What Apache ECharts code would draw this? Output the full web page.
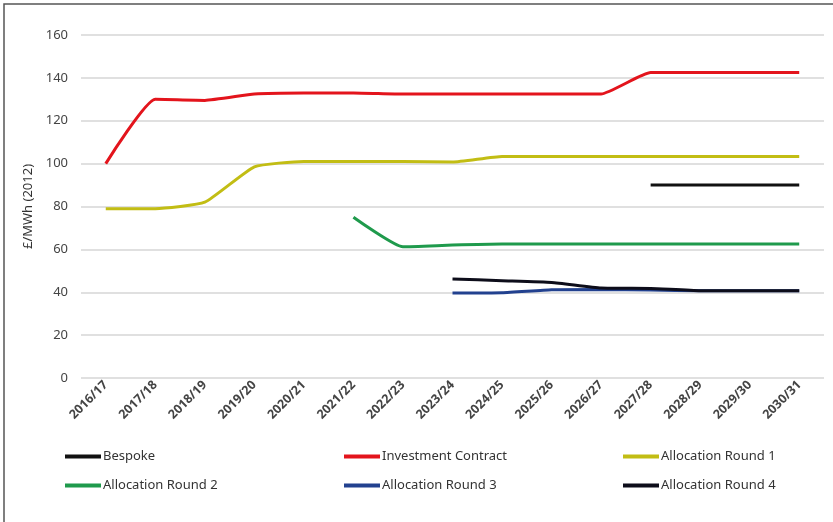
<!DOCTYPE html>
<html>
<head>
<meta charset="utf-8">
<script src="https://cdn.jsdelivr.net/npm/echarts@6/dist/echarts.min.js"></script>
<style>
  html, body { margin: 0; padding: 0; background: #fff; }
  #chart { width: 833px; height: 522px; }
</style>
</head>
<body>
<div id="chart"></div>
<script>
// financial years
var years = ['2016/17', '2017/18', '2018/19', '2019/20', '2020/21', '2021/22', '2022/23', '2023/24',
             '2024/25', '2025/26', '2026/27', '2027/28', '2028/29', '2029/30', '2030/31'];

// £/MWh (2012) per series, null = no value
var bespoke    = [null, null, null, null, null, null, null, null, null, null, null, 90, 90, 90, 90];
var investment = [100, 130, 129.5, 132.5, 133, 133, 132.5, 132.5, 132.5, 132.5, 132.5, 142.5, 142.5, 142.5, 142.5];
var round1     = [79, 79, 82, 98.5, 101, 101, 101, 100.7, 103.3, 103.3, 103.3, 103.3, 103.3, 103.3, 103.3];
var round2     = [null, null, null, null, null, 75, 61.2, 62, 62.5, 62.5, 62.5, 62.5, 62.5, 62.5, 62.5];
var round3     = [null, null, null, null, null, null, null, 39.7, 39.8, 41.2, 41.3, 41, 40.7, 40.7, 40.7];
var round4     = [null, null, null, null, null, null, null, 46.2, 45.4, 44.6, 42, 41.8, 40.7, 40.7, 40.7];

var yTicks = [0, 20, 40, 60, 80, 100, 120, 140, 160];

var font = 'Noto Sans';

function mkSeries(name, data, color) {
  return {
    name: name,
    type: 'line',
    data: data,
    smooth: 0.15,
    symbol: 'none',
    lineStyle: { color: color, width: 3 },
    itemStyle: { color: color }
  };
}

function mkLegend(name, left, top) {
  return {
    data: [name],
    left: left,
    top: top,
    padding: 0,
    icon: 'rect',
    itemWidth: 36,
    itemHeight: 4,
    itemGap: 0,
    textStyle: { fontFamily: font, fontSize: 13, color: '#333', padding: [0, 0, 0, -3] }
  };
}

var myChart = echarts.init(document.getElementById('chart'));
var option = {
  animation: false,
  textStyle: { fontFamily: font },
  graphic: [{
    type: 'polyline',
    shape: { points: [[4, 522], [4, 4], [833, 4]] },
    style: { stroke: '#555', lineWidth: 1.5, fill: null }
  }],
  grid: { left: 81, right: 9, top: 35, bottom: 144, containLabel: false },
  legend: [
    mkLegend('Bespoke', 65, 450),
    mkLegend('Investment Contract', 344, 450),
    mkLegend('Allocation Round 1', 623, 450),
    mkLegend('Allocation Round 2', 65, 479),
    mkLegend('Allocation Round 3', 344, 479),
    mkLegend('Allocation Round 4', 623, 479)
  ],
  xAxis: {
    type: 'category',
    data: years,
    boundaryGap: true,
    axisLine: { show: false },
    axisTick: { show: false },
    axisLabel: {
      rotate: 45,
      margin: 5,
      interval: 0,
      fontFamily: font,
      fontSize: 12.5,
      fontWeight: 'bold',
      color: '#444'
    }
  },
  yAxis: {
    type: 'value',
    min: yTicks[0],
    max: yTicks[yTicks.length - 1],
    interval: 20,
    name: '£/MWh (2012)',
    nameLocation: 'middle',
    nameGap: 38,
    nameTextStyle: { fontFamily: font, fontSize: 13, color: '#333' },
    axisLine: { show: false },
    axisTick: { show: false },
    axisLabel: { margin: 13, fontFamily: font, fontSize: 13, color: '#444' },
    splitLine: { lineStyle: { color: '#d6d6d6', width: 1.5 } }
  },
  series: [
    mkSeries('Bespoke', bespoke, '#111111'),
    mkSeries('Investment Contract', investment, '#e3141c'),
    mkSeries('Allocation Round 1', round1, '#c2bd14'),
    mkSeries('Allocation Round 2', round2, '#1f9a4c'),
    mkSeries('Allocation Round 3', round3, '#22418f'),
    mkSeries('Allocation Round 4', round4, '#0d0d1a')
  ]
};
myChart.setOption(option);
</script>
</body>
</html>
